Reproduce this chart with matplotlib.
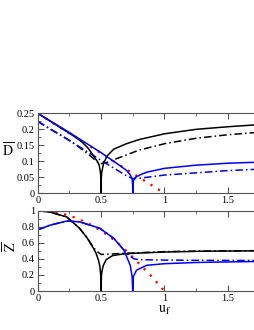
#!/usr/bin/env python3

import matplotlib
matplotlib.use('Agg')
import matplotlib.pyplot as plt
from matplotlib.ticker import FixedLocator, MultipleLocator, FormatStrFormatter

# ---- top panel: D bar vs u_f ----
u_red_d = [0.0, 1.0]
d_red = [0.25, 0.0]

u_blk_d = [0.0, 0.2, 0.3, 0.35, 0.4, 0.44, 0.47, 0.485, 0.495, 0.4995, 0.5,
           0.5005, 0.505, 0.52, 0.55, 0.6, 0.7, 0.8, 1.0, 1.25, 1.5, 1.72]
d_blk = [0.25, 0.2, 0.175, 0.16, 0.14, 0.117, 0.1, 0.088, 0.065, 0.04, 0.0,
         0.04, 0.065, 0.095, 0.118, 0.138, 0.155, 0.168, 0.186, 0.2, 0.208, 0.214]

u_blk_dd = [0.0, 0.1, 0.2, 0.3, 0.4, 0.45, 0.49, 0.55, 0.6, 0.7, 0.8, 1.0, 1.25, 1.5, 1.72]
d_blk_dd = [0.225, 0.2, 0.178, 0.152, 0.122, 0.105, 0.092, 0.097, 0.105, 0.12, 0.135,
            0.155, 0.172, 0.183, 0.19]

u_blu_d = [0.0, 0.25, 0.5, 0.6, 0.7, 0.73, 0.745, 0.7495, 0.75,
           0.7505, 0.755, 0.77, 0.81, 0.86, 1.0, 1.25, 1.5, 1.72]
d_blu = [0.25, 0.19, 0.127, 0.1, 0.072, 0.058, 0.045, 0.025, 0.0,
         0.025, 0.04, 0.05, 0.058, 0.066, 0.078, 0.088, 0.094, 0.097]

u_blu_dd = [0.0, 0.25, 0.5, 0.7, 0.75, 0.8, 0.9, 1.0, 1.25, 1.5, 1.72]
d_blu_dd = [0.225, 0.165, 0.103, 0.055, 0.046, 0.047, 0.052, 0.057, 0.064, 0.071, 0.075]

# ---- bottom panel: Z bar vs u_f ----
u_red_z = [0.0, 0.1, 0.2, 0.3, 0.4, 0.5, 0.6, 0.7, 0.8, 0.85, 0.9, 0.95, 1.0]
z_red = [1.0, 0.99, 0.96, 0.91, 0.84, 0.75, 0.64, 0.5, 0.34, 0.26, 0.18, 0.09, 0.0]

u_blk_z = [0.0, 0.1, 0.23, 0.33, 0.39, 0.44, 0.46, 0.48, 0.49, 0.497, 0.5,
           0.503, 0.51, 0.518, 0.54, 0.59, 0.67, 0.77, 1.0, 1.3, 1.72]
z_blk = [1.0, 0.98, 0.92, 0.78, 0.66, 0.53, 0.47, 0.38, 0.31, 0.2, 0.0,
         0.2, 0.27, 0.32, 0.39, 0.44, 0.46, 0.47, 0.485, 0.495, 0.5]

u_blk_zd = [0.0, 0.1, 0.23, 0.33, 0.39, 0.44, 0.47, 0.5, 0.55, 0.7, 1.0, 1.3, 1.72]
z_blk_dd = [1.0, 0.98, 0.92, 0.78, 0.66, 0.54, 0.49, 0.455, 0.458, 0.47, 0.49, 0.497, 0.502]

u_blu_z = [0.0, 0.1, 0.23, 0.33, 0.49, 0.6, 0.68, 0.73, 0.745, 0.75,
           0.755, 0.78, 0.86, 1.0, 1.25, 1.5, 1.72]
z_blu = [0.76, 0.82, 0.87, 0.86, 0.78, 0.655, 0.51, 0.32, 0.18, 0.0,
         0.18, 0.26, 0.32, 0.34, 0.355, 0.362, 0.367]

u_blu_zd = [0.0, 0.1, 0.23, 0.33, 0.49, 0.6, 0.68, 0.72, 0.76, 0.8, 1.0, 1.25, 1.72]
z_blu_dd = [0.76, 0.82, 0.87, 0.86, 0.78, 0.655, 0.51, 0.44, 0.40, 0.39, 0.385, 0.382, 0.38]

x_ticks = [0, 0.5, 1, 1.5]


def style_axis(ax, ymaj, ymin, fmt):
    ax.set_xlim(0, 2.0)
    ax.xaxis.set_major_locator(FixedLocator(x_ticks))
    ax.xaxis.set_minor_locator(FixedLocator([0.25, 0.75, 1.25, 1.75]))
    ax.xaxis.set_major_formatter(FormatStrFormatter('%g'))
    ax.yaxis.set_major_locator(MultipleLocator(ymaj))
    ax.yaxis.set_minor_locator(MultipleLocator(ymin))
    ax.yaxis.set_major_formatter(FormatStrFormatter(fmt))
    ax.tick_params(which='both', direction='in', top=True, right=True,
                   labelsize=7.5, pad=2, color='#555555')
    ax.tick_params(which='major', length=4)
    ax.tick_params(which='minor', length=2)
    for s in ax.spines.values():
        s.set_color('#555555')
        s.set_linewidth(0.8)


plt.rcParams['font.family'] = ['Liberation Serif', 'DejaVu Serif']
plt.rcParams['mathtext.fontset'] = 'stix'

dd = (0, (5, 2, 1, 2))
dot = (0, (1, 3))
lw = 1.1

fig = plt.figure(figsize=(2.55, 3.3), dpi=100)
ax1 = fig.add_axes([0.148, 0.4142, 0.9937, 0.2424])
ax2 = fig.add_axes([0.148, 0.118, 0.9937, 0.2439])

ax1.plot(u_red_d, d_red, color='red', ls=dot, lw=1.6)
ax1.plot(u_blk_dd, d_blk_dd, color='black', ls=dd, lw=lw)
ax1.plot(u_blu_dd, d_blu_dd, color='blue', ls=dd, lw=lw)
ax1.plot(u_blk_d, d_blk, color='black', lw=lw)
ax1.plot(u_blu_d, d_blu, color='blue', lw=lw)
ax1.set_ylim(0, 0.25)
style_axis(ax1, 0.05, 0.025, '%g')
ax1.set_ylabel(r'$\overline{\mathrm{D}}$', fontsize=10, rotation=0, va='center', ha='center')
ax1.yaxis.set_label_coords(-0.117, 0.54)

ax2.plot(u_red_z, z_red, color='red', ls=dot, lw=1.6)
ax2.plot(u_blk_zd, z_blk_dd, color='black', ls=dd, lw=lw)
ax2.plot(u_blu_zd, z_blu_dd, color='blue', ls=dd, lw=lw)
ax2.plot(u_blk_z, z_blk, color='black', lw=lw)
ax2.plot(u_blu_z, z_blu, color='blue', lw=lw)
ax2.set_ylim(0, 1)
style_axis(ax2, 0.2, 0.1, '%g')
ax2.set_ylabel(r'$\overline{\mathrm{Z}}$', fontsize=10, rotation=90, va='center', ha='center')
ax2.yaxis.set_label_coords(-0.108, 0.55)
ax2.set_xlabel(r'$\mathrm{u_f}$', fontsize=10, va='top')
ax2.xaxis.set_label_coords(0.5, -0.155)

fig.savefig('out.png', dpi=100)
